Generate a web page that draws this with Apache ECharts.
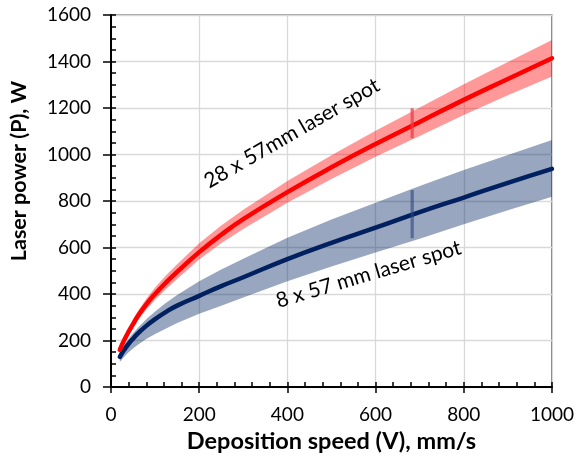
<!DOCTYPE html>
<html>
<head>
<meta charset="utf-8">
<script src="https://cdn.jsdelivr.net/npm/echarts@6/dist/echarts.min.js"></script>
<style>html,body{margin:0;padding:0;background:#fff}#c{width:577px;height:465px}</style>
</head>
<body>
<div id="c"></div>
<script>
// Deposition speed V (mm/s)
const speed = [20, 30, 40, 50, 60, 80, 100, 125, 150, 200, 250, 300, 400, 500, 600, 700, 800, 900, 1000];
// 28 x 57 mm laser spot: fitted power and band
const redPower = [160, 202, 238, 270, 302, 355, 400, 450, 495, 580, 655, 722, 838, 945, 1045, 1140, 1235, 1325, 1414];
const redLow   = [150, 190, 225, 256, 285, 333, 375, 422, 465, 548, 618, 680, 792, 895, 990, 1080, 1170, 1255, 1335];
const redHigh  = [172, 216, 256, 292, 324, 380, 428, 481, 528, 618, 695, 762, 886, 997, 1102, 1202, 1302, 1398, 1492];
// 8 x 57 mm laser spot: fitted power and band
const bluePower = [130, 160, 186, 208, 228, 263, 292, 323, 350, 392, 434, 472, 550, 620, 685, 752, 815, 878, 938];
const blueLow   = [108, 130, 150, 166, 181, 206, 228, 252, 275, 315, 350, 385, 455, 518, 578, 638, 700, 760, 818];
const blueHigh  = [150, 180, 207, 231, 253, 291, 325, 362, 396, 455, 505, 552, 642, 720, 793, 865, 933, 998, 1062];
// error bars at V = 683
const errSpeed = [683, 683];
const errLow  = [1070, 640];
const errHigh = [1199, 847];
// annotations
const noteText = ['28 x 57mm laser spot', '8 x 57 mm laser spot'];
const noteSpeed = [410, 584];
const notePower = [1091, 485];
const noteAngle = [30, 16.5];
// ticks
const xTicks = [0, 200, 400, 600, 800, 1000];
const yTicks = [0, 200, 400, 600, 800, 1000, 1200, 1400, 1600];

const FONT = 'Lato, "Open Sans", sans-serif';

function bandSeries(low, high, color) {
  const data = speed.map((v, i) => [v, low[i], high[i]]);
  return {
    type: 'custom', xAxisIndex: 0, yAxisIndex: 0, silent: true, z: 2,
    data: data,
    encode: { x: 0, y: [1, 2] },
    renderItem: function (params, api) {
      if (params.dataIndex !== 0) return null;
      const pts = [];
      for (let i = 0; i < data.length; i++) pts.push(api.coord([data[i][0], data[i][2]]));
      for (let i = data.length - 1; i >= 0; i--) pts.push(api.coord([data[i][0], data[i][1]]));
      return { type: 'polygon', shape: { points: pts }, style: { fill: color, stroke: null } };
    }
  };
}

const chart = echarts.init(document.getElementById('c'));
chart.setOption({
  animation: false,
  backgroundColor: '#ffffff',
  grid: { left: 111, right: 25, top: 15, bottom: 78, show: true, borderColor: '#3a3a3a', borderWidth: 1.2, backgroundColor: 'transparent' },
  xAxis: [{
    type: 'value', min: 0, max: 1000, interval: 200, position: 'bottom',
    axisLine: { show: true, onZero: false, lineStyle: { color: '#000', width: 2 } },
    axisTick: { show: true, inside: false, length: 6, lineStyle: { color: '#000', width: 1.5 } },
    axisLabel: { color: '#000', fontSize: 19, fontFamily: FONT, margin: 18,
      formatter: v => xTicks.includes(v) ? String(v) : '' },
    splitLine: { show: true, lineStyle: { color: '#d9d9d9', width: 1.3 } },
    name: 'Deposition speed (V), mm/s', nameLocation: 'middle', nameGap: 42,
    nameTextStyle: { color: '#000', fontSize: 23.5, fontWeight: 'bold', fontFamily: FONT }
  }, {
    type: 'value', min: 0, max: 1000, interval: 40, position: 'bottom',
    axisLine: { show: false, onZero: false },
    axisTick: { show: true, inside: true, length: 5, lineStyle: { color: '#000', width: 1.5 } },
    axisLabel: { show: false }, splitLine: { show: false }
  }],
  yAxis: [{
    type: 'value', min: 0, max: 1600, interval: 200, position: 'left',
    axisLine: { show: true, onZero: false, lineStyle: { color: '#000', width: 2 } },
    axisTick: { show: true, inside: false, length: 8, lineStyle: { color: '#000', width: 1.5 } },
    axisLabel: { color: '#000', fontSize: 19, fontFamily: FONT, margin: 20,
      formatter: v => yTicks.includes(v) ? String(v) : '' },
    splitLine: { show: true, lineStyle: { color: '#d9d9d9', width: 1.3 } }
  }, {
    type: 'value', min: 0, max: 1600, interval: 50, position: 'left',
    axisLine: { show: false, onZero: false },
    axisTick: { show: true, inside: true, length: 5, lineStyle: { color: '#000', width: 1.5 } },
    axisLabel: { show: false }, splitLine: { show: false }
  }],
  graphic: [{
    type: 'text', x: 19, y: 171, rotation: Math.PI / 2,
    style: { text: 'Laser power (P), W', fill: '#000', font: 'bold 21.5px ' + FONT, align: 'center', verticalAlign: 'middle' }
  }],
  series: [
    bandSeries(blueLow, blueHigh, 'rgba(0,32,96,0.4)'),
    bandSeries(redLow, redHigh, 'rgba(255,0,0,0.4)'),
    {
      type: 'line', data: speed.map((v, i) => [v, bluePower[i]]), smooth: true, showSymbol: false, z: 4,
      lineStyle: { color: '#002060', width: 4.5, cap: 'round' }
    },
    {
      type: 'line', data: speed.map((v, i) => [v, redPower[i]]), smooth: true, showSymbol: false, z: 5,
      lineStyle: { color: '#ff0000', width: 4.5, cap: 'round' }
    },
    {
      type: 'custom', silent: true, z: 6,
      data: errSpeed.map((v, i) => [v, errLow[i], errHigh[i]]),
      encode: { x: 0, y: [1, 2] },
      renderItem: function (params, api) {
        const a = api.coord([api.value(0), api.value(1)]);
        const b = api.coord([api.value(0), api.value(2)]);
        const col = params.dataIndex === 0 ? 'rgba(235,60,70,0.75)' : 'rgba(40,70,130,0.6)';
        return { type: 'line', shape: { x1: a[0], y1: a[1], x2: b[0], y2: b[1] }, style: { stroke: col, lineWidth: 3.3 } };
      }
    },
    {
      type: 'custom', silent: true, z: 7,
      data: noteText.map((t, i) => [noteSpeed[i], notePower[i], noteAngle[i]]),
      encode: { x: 0, y: 1 },
      renderItem: function (params, api) {
        const p = api.coord([api.value(0), api.value(1)]);
        return {
          type: 'text', x: p[0], y: p[1], rotation: api.value(2) * Math.PI / 180,
          style: { text: noteText[params.dataIndex], fill: '#000', font: '21px ' + FONT, align: 'center', verticalAlign: 'middle' }
        };
      }
    }
  ]
});
</script>
</body>
</html>
